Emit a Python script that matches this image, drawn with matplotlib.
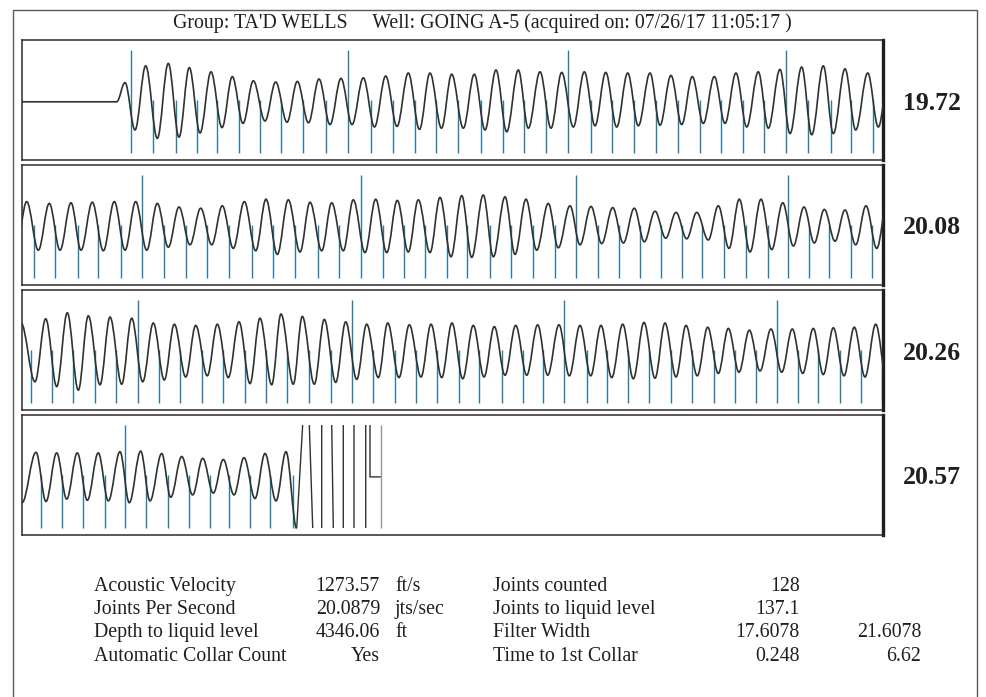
import matplotlib
matplotlib.use("Agg")
import matplotlib.pyplot as plt
from matplotlib.path import Path
from matplotlib.patches import PathPatch, Rectangle

# ---------------- data ----------------
title = "Group: TA'D WELLS     Well: GOING A-5 (acquired on: 07/26/17 11:05:17 )"
panel_labels = ["19.72", "20.08", "20.26", "20.57"]

# waveform extrema (local time within each 2 s panel, amplitude)
p1_t = [0.000, 0.220, 0.2393, 0.2625, 0.2873, 0.3143, 0.3398, 0.3647, 0.3886, 0.4135, 0.4390, 0.4646,
        0.4885, 0.5134, 0.5373, 0.5645, 0.5893, 0.6156, 0.6395, 0.6655, 0.6899, 0.7154, 0.7410, 0.7666,
        0.7928, 0.8188, 0.8448, 0.8711, 0.8973, 0.9233, 0.9477, 0.9744, 0.9981, 1.0251, 1.0506, 1.0755,
        1.1010, 1.1259, 1.1528, 1.1761, 1.2033, 1.2288, 1.2537, 1.2806, 1.3062, 1.3310, 1.3559, 1.3814,
        1.4070, 1.4316, 1.4588, 1.4820, 1.5075, 1.5324, 1.5570, 1.5826, 1.6081, 1.6330, 1.6585, 1.6834,
        1.7103, 1.7336, 1.7607, 1.7840, 1.8111, 1.8344, 1.8613, 1.8846, 1.9117, 1.9366, 1.9645, 1.9891, 2.014]
p1_v = [-0.03, -0.03, 0.29, -0.50, 0.57, -0.64, 0.61, -0.62, 0.54, -0.55, 0.47, -0.46, 0.39, -0.39,
        0.32, -0.35, 0.30, -0.37, 0.31, -0.38, 0.35, -0.41, 0.36, -0.41, 0.37, -0.45, 0.40, -0.44, 0.45,
        -0.49, 0.45, -0.47, 0.43, -0.47, 0.43, -0.50, 0.50, -0.53, 0.50, -0.47, 0.47, -0.47, 0.46, -0.45,
        0.47, -0.43, 0.46, -0.45, 0.45, -0.43, 0.45, -0.42, 0.41, -0.41, 0.39, -0.39, 0.39, -0.39, 0.45,
        -0.45, 0.47, -0.47, 0.51, -0.56, 0.55, -0.58, 0.57, -0.56, 0.52, -0.50, 0.45, -0.45, 0.45]

p2_t = [-0.0139, 0.0109, 0.0379, 0.0634, 0.0883, 0.1138, 0.1371, 0.1633, 0.1889, 0.2144, 0.2393, 0.2641,
        0.2897, 0.3143, 0.3398, 0.3647, 0.3902, 0.4151, 0.4407, 0.4653, 0.4908, 0.5164, 0.5429, 0.5668,
        0.5930, 0.6186, 0.6458, 0.6690, 0.6962, 0.7194, 0.7464, 0.7696, 0.7967, 0.8216, 0.8472, 0.8718,
        0.8973, 0.9206, 0.9477, 0.9710, 0.9965, 1.0214, 1.0446, 1.0715, 1.0948, 1.1220, 1.1452, 1.1707,
        1.1956, 1.2225, 1.2457, 1.2729, 1.2962, 1.3217, 1.3466, 1.3721, 1.3968, 1.4223, 1.4455, 1.4704,
        1.4953, 1.5192, 1.5441, 1.5673, 1.5942, 1.6174, 1.6423, 1.6662, 1.6911, 1.7166, 1.7415, 1.7671,
        1.7917, 1.8165, 1.8404, 1.8637, 1.8885, 1.9117, 1.9366, 1.9605, 1.9854, 2.0105]
p2_v = [-0.42, 0.39, -0.42, 0.36, -0.42, 0.37, -0.42, 0.38, -0.43, 0.39, -0.42, 0.39, -0.42, 0.36,
        -0.37, 0.30, -0.33, 0.28, -0.33, 0.32, -0.39, 0.39, -0.43, 0.43, -0.49, 0.42, -0.45, 0.38, -0.43,
        0.37, -0.43, 0.42, -0.46, 0.43, -0.46, 0.41, -0.45, 0.42, -0.46, 0.46, -0.53, 0.49, -0.54, 0.50,
        -0.53, 0.47, -0.49, 0.43, -0.42, 0.36, -0.38, 0.32, -0.33, 0.31, -0.31, 0.29, -0.30, 0.28, -0.28,
        0.23, -0.22, 0.21, -0.23, 0.21, -0.25, 0.32, -0.39, 0.43, -0.45, 0.43, -0.41, 0.37, -0.35, 0.30,
        -0.30, 0.26, -0.27, 0.25, -0.33, 0.32, -0.39, 0.42]

p3_t = [-0.0023, 0.0302, 0.0551, 0.0806, 0.1052, 0.1308, 0.1540, 0.1812, 0.2044, 0.2316, 0.2548, 0.2804,
        0.3050, 0.3305, 0.3538, 0.3803, 0.4035, 0.4304, 0.4537, 0.4792, 0.5041, 0.5296, 0.5528, 0.5800,
        0.6016, 0.6302, 0.6511, 0.6790, 0.7022, 0.7287, 0.7519, 0.7775, 0.8007, 0.8277, 0.8495, 0.8757,
        0.8997, 0.9268, 0.9501, 0.9749, 0.9988, 1.0237, 1.0483, 1.0732, 1.0971, 1.1220, 1.1468, 1.1724,
        1.1979, 1.2211, 1.2474, 1.2713, 1.2962, 1.3210, 1.3449, 1.3698, 1.3954, 1.4200, 1.4448, 1.4704,
        1.4936, 1.5192, 1.5424, 1.5686, 1.5928, 1.6174, 1.6407, 1.6655, 1.6895, 1.7143, 1.7398, 1.7647,
        1.7893, 1.8135, 1.8381, 1.8613, 1.8846, 1.9094, 1.9333, 1.9582, 1.9831, 2.0081]
p3_v = [0.45, -0.53, 0.52, -0.61, 0.62, -0.67, 0.57, -0.58, 0.55, -0.57, 0.53, -0.53, 0.45, -0.50,
        0.43, -0.45, 0.41, -0.43, 0.43, -0.46, 0.47, -0.56, 0.53, -0.58, 0.60, -0.57, 0.56, -0.57, 0.51,
        -0.54, 0.47, -0.49, 0.43, -0.46, 0.45, -0.46, 0.42, -0.45, 0.43, -0.46, 0.45, -0.48, 0.41, -0.45,
        0.39, -0.42, 0.41, -0.42, 0.42, -0.42, 0.42, -0.43, 0.41, -0.43, 0.41, -0.46, 0.43, -0.48, 0.46,
        -0.47, 0.45, -0.45, 0.41, -0.43, 0.38, -0.39, 0.36, -0.37, 0.33, -0.35, 0.35, -0.37, 0.35, -0.39,
        0.36, -0.41, 0.37, -0.43, 0.38, -0.45, 0.43, -0.47]

p4_t = [0.000, 0.0325, 0.0557, 0.0806, 0.1038, 0.1285, 0.1517, 0.1772, 0.2005, 0.2276, 0.2492, 0.2757,
        0.2973, 0.3245, 0.3454, 0.3710, 0.3965, 0.4197, 0.4444, 0.4676, 0.4925, 0.5157, 0.5412, 0.5645,
        0.5900, 0.6132, 0.6381]
p4_v = [-0.47, 0.37, -0.45, 0.36, -0.41, 0.36, -0.43, 0.36, -0.44, 0.38, -0.47, 0.39, -0.44, 0.35,
        -0.38, 0.30, -0.34, 0.27, -0.31, 0.25, -0.34, 0.28, -0.40, 0.35, -0.44, 0.38, -0.90]

# off-scale tail of panel 4 (clipped signal after liquid level)
tail_t = [0.6381, 0.6520, 0.6520, 0.6674, 0.6674, 0.6753, 0.6753, 0.6962, 0.6962, 0.7194, 0.7194,
          0.7231, 0.7231, 0.7463, 0.7463, 0.7712, 0.7712, 0.7984, 0.7984, 0.8084, 0.8084, 0.8316]
tail_v = [-0.89, 0.83, 1.30, 1.30, 0.83, -0.89, -1.30, -1.30, 1.30, 1.30, 0.83,
          -0.89, -1.30, -1.30, 1.30, 1.30, -1.30, -1.30, 1.30, 1.30, -0.04, -0.04]
end_marker_t = [0.8332]

# joint (collar) markers
m1_tall = [0.2525, 0.7566, 1.2690, 1.7740]
m1_short = [0.3050, 0.3577, 0.4058, 0.4530, 0.5048, 0.5529, 0.6009, 0.6534, 0.7055, 0.8100, 0.8618,
            0.9129, 0.9617, 1.0135, 1.0655, 1.1180, 1.1661, 1.2165, 1.3210, 1.3698, 1.4216, 1.4727,
            1.5245, 1.5749, 1.6230, 1.6741, 1.7243, 1.8265, 1.8785, 1.9264, 1.9775]
m2_tall = [0.2780, 0.7868, 1.2862, 1.7800]
m2_short = [0.0279, 0.0767, 0.1294, 0.1758, 0.2300, 0.3298, 0.3810, 0.4297, 0.4815, 0.5336, 0.5824,
            0.6341, 0.6869, 0.7364, 0.8393, 0.8873, 0.9361, 0.9865, 1.0344, 1.0871, 1.1352, 1.1863,
            1.2381, 1.3387, 1.3868, 1.4355, 1.4843, 1.5324, 1.5803, 1.6314, 1.6811, 1.7322, 1.8281,
            1.8753, 1.9250, 1.9738]
m3_tall = [0.2702, 0.7673, 1.2590, 1.7531]
m3_short = [0.0209, 0.0704, 0.1192, 0.1696, 0.2177, 0.3182, 0.3670, 0.4188, 0.4676, 0.5180, 0.5661,
            0.6163, 0.6667, 0.7178, 0.8160, 0.8664, 0.9152, 0.9633, 1.0151, 1.0623, 1.1143, 1.1631,
            1.2109, 1.3117, 1.3596, 1.4070, 1.4564, 1.5075, 1.5557, 1.6081, 1.6562, 1.7043, 1.8019,
            1.8497, 1.9001, 1.9489, 1.9970]
m4_tall = [0.2393]
m4_short = [0.0434, 0.0922, 0.1424, 0.1928, 0.2880, 0.3398, 0.3886, 0.4367, 0.4815, 0.5296, 0.5761, 0.6302]

# summary table
left_labels = ["Acoustic Velocity", "Joints Per Second", "Depth to liquid level", "Automatic Collar Count"]
left_values = ["1273.57", "20.0879", "4346.06", "Yes"]
left_units = ["ft/s", "jts/sec", "ft", ""]
right_labels = ["Joints counted", "Joints to liquid level", "Filter Width", "Time to 1st Collar"]
right_values = ["128", "137.1", "17.6078", "0.248"]
extra_values = ["", "", "21.6078", "6.62"]

# ---------------- drawing ----------------
W, H = 986, 697
fig = plt.figure(figsize=(W / 100, H / 100), dpi=100)
fig.patch.set_facecolor("white")
SERIF = ["Liberation Serif", "DejaVu Serif"]
WAVE = "#2e332f"
MARK = "#2a7ca3"
TXT = "#1f1f1f"
A = 0.3634


def fx(x):
    return x / W


def fy(y):
    return 1 - y / H


def wave_path(t, v):
    n = min(len(t), len(v))
    verts = [(t[0], v[0])]
    codes = [Path.MOVETO]
    for i in range(1, n):
        dt = t[i] - t[i - 1]
        verts += [(t[i - 1] + A * dt, v[i - 1]), (t[i] - A * dt, v[i]), (t[i], v[i])]
        codes += [Path.CURVE4] * 3
    return Path(verts, codes)


panels = [
    (40, p1_t, p1_v, m1_short, m1_tall),
    (165, p2_t, p2_v, m2_short, m2_tall),
    (290, p3_t, p3_v, m3_short, m3_tall),
    (414.5, p4_t, p4_v, m4_short, m4_tall),
]
X0, X1 = 22, 883
PH = 120
LO, HI = -0.89, 0.83

for k, (ytop, t, v, ms, mt) in enumerate(panels):
    ax = fig.add_axes([fx(X0), fy(ytop + PH), fx(X1 - X0), PH / H])
    ax.set_xlim(0, 2)
    ax.set_ylim(-1, 1)
    ax.set_xticks([])
    ax.set_yticks([])
    for s in ax.spines.values():
        s.set_color("#2b2b2b")
        s.set_linewidth(1.1)
    ax.spines["right"].set_linewidth(2.4)
    ax.spines["right"].set_color("#1e1e1e")
    ax.vlines(ms, LO, 0.0, color=MARK, lw=1.0, zorder=2)
    ax.vlines(mt, LO, HI, color=MARK, lw=1.0, zorder=2)
    ax.add_patch(PathPatch(wave_path(t, v), fill=False, edgecolor=WAVE, lw=1.2,
                           joinstyle="round", zorder=3))
    if k == 3:
        ln, = ax.plot(tail_t, tail_v, color=WAVE, lw=1.0, zorder=3)
        ln.set_clip_path(Rectangle((0, LO), 2, HI - LO, transform=ax.transData))
        ax.vlines(end_marker_t, LO, HI, color="#8f9a92", lw=1.0, zorder=2)
    ax.text(1.057, 0.475, panel_labels[k], transform=ax.transAxes, ha="center", va="center",
            fontsize=18.5, fontweight="bold", family=SERIF, color=TXT)

# outer frame
fig.add_artist(Rectangle((fx(12.5), -0.02), fx(977 - 12.5), fy(9.5) + 0.02, transform=fig.transFigure,
                         fill=False, ec="#5a5a5a", lw=1.0))

# title
fig.text(fx(482.5), fy(28), title, ha="center", va="baseline", fontsize=14.3, family=SERIF, color=TXT)

# summary table
rows_y = [590.7, 614, 637.3, 661.3]
fs = 14.3
for i, y in enumerate(rows_y):
    fig.text(fx(94), fy(y), left_labels[i], ha="left", va="baseline", fontsize=fs, family=SERIF, color=TXT)
    fig.text(fx(380), fy(y), left_values[i], ha="right", va="baseline", fontsize=fs, family=SERIF, color=TXT)
    if left_units[i]:
        fig.text(fx(395), fy(y), left_units[i], ha="left", va="baseline", fontsize=fs, family=SERIF, color=TXT)
    fig.text(fx(493), fy(y), right_labels[i], ha="left", va="baseline", fontsize=fs, family=SERIF, color=TXT)
    fig.text(fx(800), fy(y), right_values[i], ha="right", va="baseline", fontsize=fs, family=SERIF, color=TXT)
    if extra_values[i]:
        fig.text(fx(921), fy(y), extra_values[i], ha="right", va="baseline", fontsize=fs, family=SERIF, color=TXT)

fig.savefig("out.png", dpi=100, facecolor="white")
